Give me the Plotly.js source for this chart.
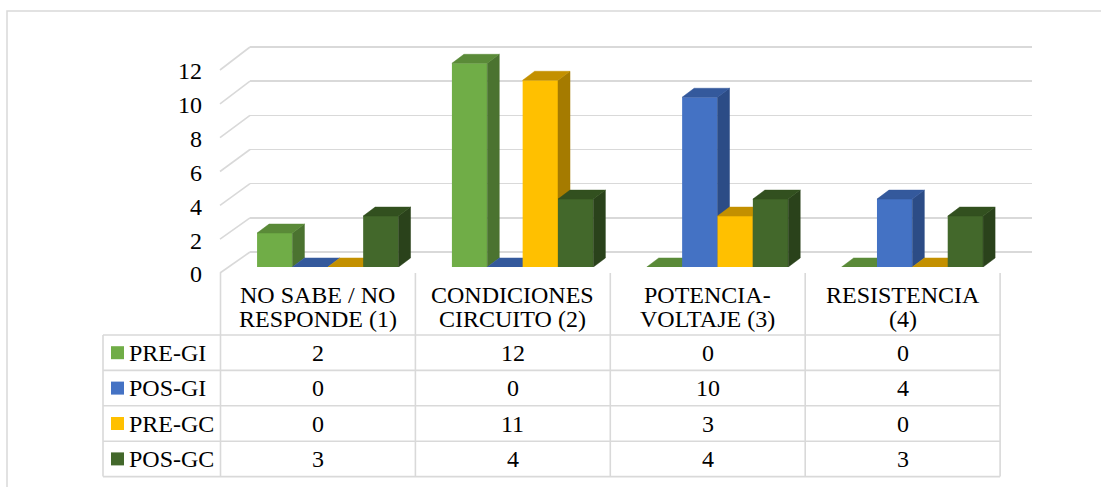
<!DOCTYPE html>
<html>
<head>
<meta charset="utf-8">
<script src="https://cdn.plot.ly/plotly-3.0.1.min.js"></script>
<style>
  html, body { margin: 0; padding: 0; background: #ffffff; }
  #chart { width: 1101px; height: 487px; }
</style>
</head>
<body>
<div id="chart"></div>
<script>
// ---------------- data ----------------
const categories = [
  ["NO SABE / NO", "RESPONDE (1)"],
  ["CONDICIONES", "CIRCUITO (2)"],
  ["POTENCIA-", "VOLTAJE (3)"],
  ["RESISTENCIA", "(4)"]
];
const seriesNames = ["PRE-GI", "POS-GI", "PRE-GC", "POS-GC"];
const preGI = [2, 12, 0, 0];
const posGI = [0, 0, 10, 4];
const preGC = [0, 11, 3, 0];
const posGC = [3, 4, 4, 3];
const yTicks = [0, 2, 4, 6, 8, 10, 12];

// ---------------- styles ----------------
const frontColors = ["#70AD47", "#4472C4", "#FFC000", "#43682B"];
const topColors   = ["#5A8A38", "#34599C", "#C39000", "#32501F"];
const sideColors  = ["#4B7330", "#2C4C86", "#A57B00", "#2A421B"];
const FONT = "Liberation Serif, Times New Roman, serif";
const GRID = "#d9d9d9";

const W = 1101, H = 487;
const seriesValues = [preGI, posGI, preGC, posGC];

// helpers: map value->pixel anchors to an axis domain
function yDomain(v0, p0, v1, p1, r0, r1) {
  const s = (p0 - p1) / (v1 - v0);
  const px = r => p0 - (r - v0) * s;
  return [1 - px(r0) / H, 1 - px(r1) / H];
}
function xDomain(v0, p0, v1, p1, r0, r1) {
  const s = (p1 - p0) / (v1 - v0);
  const px = r => p0 + (r - v0) * s;
  return [px(r0) / W, px(r1) / W];
}
const PX = p => p / W;
const PY = p => 1 - p / H;

// geometry of the pseudo-3D bars (in data units)
const nS = seriesValues.length;
const groupW = 0.726;
const barW = groupW / nS;
const depthX = 0.0616;
const depthY = 0.53;

const traces = [];
// back wall subplot (gridlines only)
traces.push({type: "scatter", x: [], y: [], xaxis: "x", yaxis: "y", hoverinfo: "skip", showlegend: false});

seriesValues.forEach((vals, k) => {
  const ax = k + 2;
  const xs = categories.map((c, i) => i + (k - (nS - 1) / 2) * barW);
  traces.push({
    type: "bar", x: xs, y: vals, width: barW,
    marker: {color: frontColors[k], line: {width: 0}},
    name: seriesNames[k], xaxis: "x" + ax, yaxis: "y" + ax,
    hoverinfo: "skip", showlegend: false
  });
  // top faces
  const tx = [], ty = [];
  const sx = [], sy = [];
  xs.forEach((xc, i) => {
    const h = vals[i];
    const L = xc - barW / 2, R = xc + barW / 2;
    tx.push(L, R, R + depthX, L + depthX, L, null);
    ty.push(h, h, h + depthY, h + depthY, h, null);
    if (h > 0) {
      sx.push(R, R + depthX, R + depthX, R, R, null);
      sy.push(0, depthY, h + depthY, h, 0, null);
    }
  });
  traces.push({
    type: "scatter", mode: "lines", x: sx, y: sy, fill: "toself",
    fillcolor: sideColors[k], line: {width: 0.5, color: sideColors[k]},
    xaxis: "x" + ax, yaxis: "y" + ax, hoverinfo: "skip", showlegend: false, connectgaps: false
  });
  traces.push({
    type: "scatter", mode: "lines", x: tx, y: ty, fill: "toself",
    fillcolor: topColors[k], line: {width: 0.5, color: topColors[k]},
    xaxis: "x" + ax, yaxis: "y" + ax, hoverinfo: "skip", showlegend: false, connectgaps: false
  });
});
// label axis subplot
traces.push({type: "scatter", x: [], y: [], xaxis: "x6", yaxis: "y6", hoverinfo: "skip", showlegend: false});

const layout = {
  width: W, height: H,
  margin: {l: 0, r: 0, t: 0, b: 0},
  paper_bgcolor: "#ffffff",
  plot_bgcolor: "rgba(0,0,0,0)",
  showlegend: false,
  font: {family: FONT, size: 24, color: "#000000"},
  xaxis: {domain: [PX(250), PX(1032)], range: [0, 1], visible: false, fixedrange: true},
  yaxis: {
    domain: yDomain(0, 252, 12, 47, -0.5, 12.5), range: [-0.5, 12.5],
    tickmode: "array", tickvals: yTicks, showticklabels: false, ticks: "",
    showgrid: true, gridcolor: GRID, gridwidth: 1.6, zeroline: false, showline: false, fixedrange: true
  },
  annotations: [],
  shapes: []
};

const barXRange = [-0.6, 3.6];
const barYRange = [0, 14];
for (let k = 0; k < nS; k++) {
  const ax = k + 2;
  layout["xaxis" + ax] = {
    domain: xDomain(0, 327.8, 3, 912.35, barXRange[0], barXRange[1]),
    range: barXRange, visible: false, fixedrange: true, anchor: "y" + ax
  };
  layout["yaxis" + ax] = {
    domain: yDomain(0, 267, 12, 63.3, barYRange[0], barYRange[1]),
    range: barYRange, visible: false, fixedrange: true, anchor: "x" + ax
  };
}
layout.xaxis6 = {domain: [PX(203), PX(215)], range: [0, 1], visible: false, fixedrange: true, anchor: "y6"};
layout.yaxis6 = {
  domain: yDomain(0, 274, 12, 71, -0.5, 12.5), range: [-0.5, 12.5], anchor: "x6",
  tickmode: "array", tickvals: yTicks, ticktext: yTicks.map(String),
  showticklabels: true, ticks: "", showgrid: false, zeroline: false, showline: false,
  tickfont: {family: FONT, size: 24, color: "#000000"}, fixedrange: true
};

// outer chart border
layout.shapes.push({type: "rect", xref: "paper", yref: "paper",
  x0: PX(7), x1: PX(1110), y0: PY(11), y1: PY(500),
  line: {color: GRID, width: 1.5}, fillcolor: "rgba(0,0,0,0)"});

// left wall diagonals
yTicks.forEach(v => {
  const fy = 273 - v * (203 / 12);
  const by = 252 - v * (205 / 12);
  layout.shapes.push({type: "line", xref: "paper", yref: "paper",
    x0: PX(220), y0: PY(fy), x1: PX(250), y1: PY(by), line: {color: GRID, width: 1.6}});
});

// data table
const tableLeft = 103, colStart = 220.5, colW = 194.9;
const headTop = 273, rowTop = 335, rowH = 35.4;
const nCols = categories.length;
const tableRight = colStart + nCols * colW;
const tableBottom = rowTop + nS * rowH;
for (let c = 0; c <= nCols; c++) {
  const x = colStart + c * colW;
  layout.shapes.push({type: "line", xref: "paper", yref: "paper",
    x0: PX(x), x1: PX(x), y0: PY(headTop), y1: PY(tableBottom), line: {color: GRID, width: 1.6}});
}
layout.shapes.push({type: "line", xref: "paper", yref: "paper",
  x0: PX(tableLeft), x1: PX(tableLeft), y0: PY(rowTop), y1: PY(tableBottom), line: {color: GRID, width: 1.6}});
for (let r = 0; r <= nS; r++) {
  const y = rowTop + r * rowH;
  layout.shapes.push({type: "line", xref: "paper", yref: "paper",
    x0: PX(tableLeft), x1: PX(tableRight), y0: PY(y), y1: PY(y), line: {color: GRID, width: 1.6}});
}
// header labels
categories.forEach((lines, i) => {
  const cx = colStart + (i + 0.5) * colW;
  lines.forEach((t, j) => {
    layout.annotations.push({xref: "paper", yref: "paper", x: PX(cx), y: PY(295 + j * 24),
      xanchor: "center", yanchor: "middle", text: t, showarrow: false,
      font: {family: FONT, size: 24, color: "#000000"}});
  });
});
// rows: legend key, name and values
seriesValues.forEach((vals, r) => {
  const cy = rowTop + (r + 0.5) * rowH;
  layout.shapes.push({type: "rect", xref: "paper", yref: "paper",
    x0: PX(111), x1: PX(124), y0: PY(cy - 6.5), y1: PY(cy + 6.5),
    fillcolor: frontColors[r], line: {width: 0}});
  layout.annotations.push({xref: "paper", yref: "paper", x: PX(127), y: PY(cy),
    xanchor: "left", yanchor: "middle", text: seriesNames[r], showarrow: false,
    font: {family: FONT, size: 24, color: "#000000"}});
  vals.forEach((v, i) => {
    const cx = colStart + (i + 0.5) * colW;
    layout.annotations.push({xref: "paper", yref: "paper", x: PX(cx), y: PY(cy),
      xanchor: "center", yanchor: "middle", text: String(v), showarrow: false,
      font: {family: FONT, size: 24, color: "#000000"}});
  });
});

Plotly.newPlot("chart", traces, layout, {staticPlot: true, displayModeBar: false});
</script>
</body>
</html>
